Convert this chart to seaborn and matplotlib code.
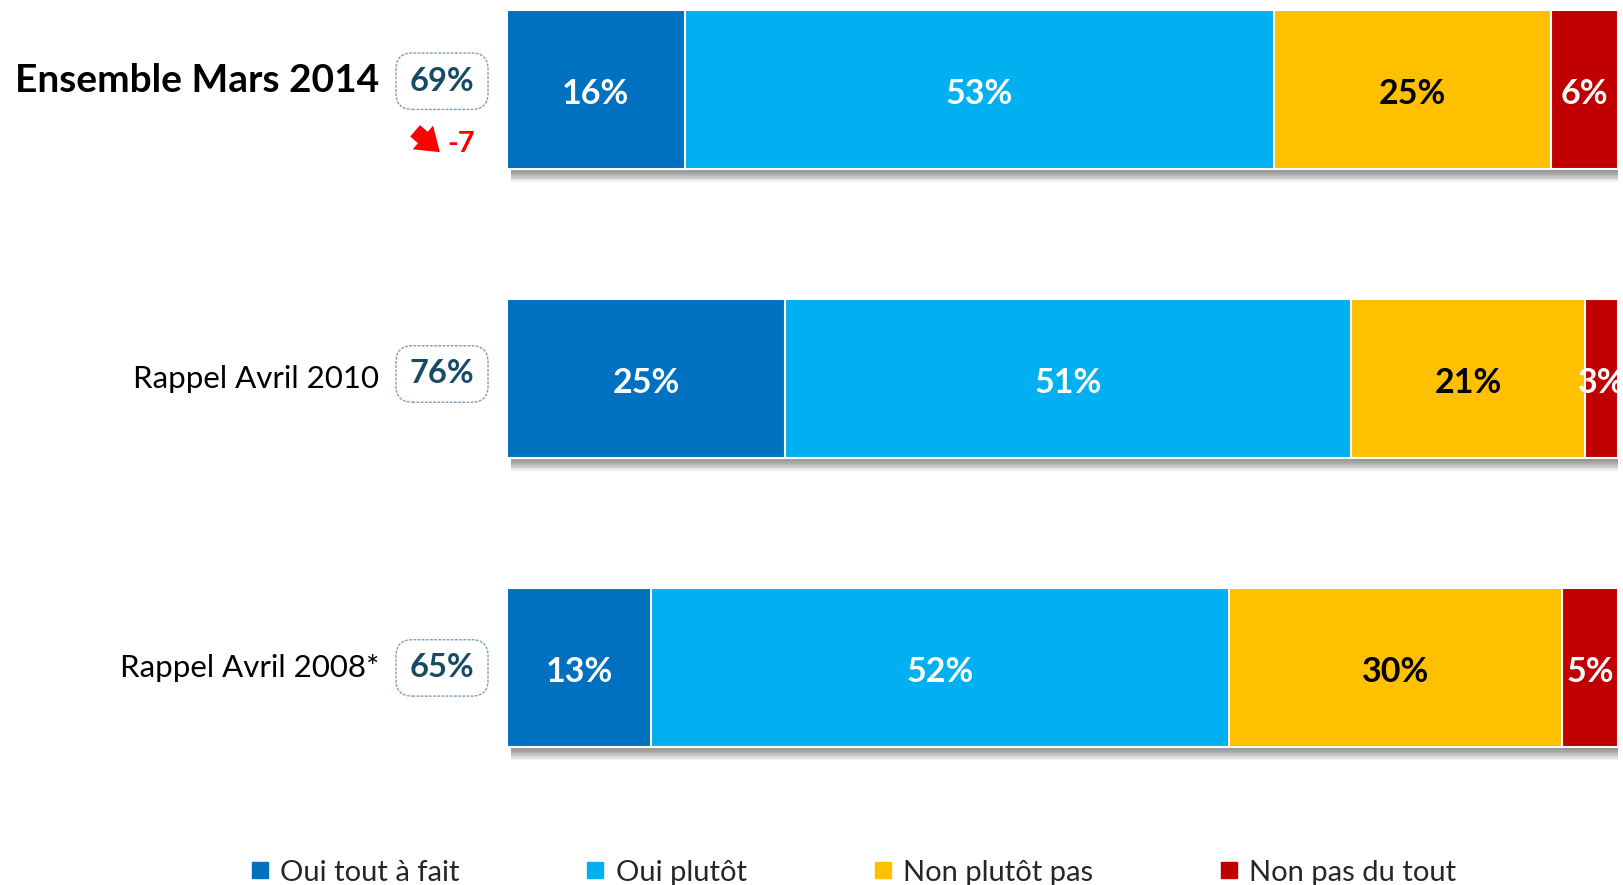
import matplotlib
matplotlib.use("Agg")
import matplotlib.pyplot as plt
import matplotlib.patheffects as pe
from matplotlib.lines import Line2D
import matplotlib.transforms as mtransforms
from matplotlib.patches import FancyArrowPatch
import seaborn as sns
import pandas as pd
import numpy as np

# ---------------- data ----------------
categories = ["Ensemble Mars 2014", "Rappel Avril 2010", "Rappel Avril 2008*"]
series_names = ["Oui tout à fait", "Oui plutôt", "Non plutôt pas", "Non pas du tout"]
oui_tout_a_fait = [16, 25, 13]
oui_plutot = [53, 51, 52]
non_plutot_pas = [25, 21, 30]
non_pas_du_tout = [6, 3, 5]
total_oui = ["69%", "76%", "65%"]
evolution = "-7"

colors = ["#0070C0", "#00B0F0", "#FFC000", "#C00000"]
label_colors = ["white", "white", "black", "white"]

sns.set_theme(style="white")
plt.rcParams["font.family"] = ["Lato", "DejaVu Sans"]

W, H = 1623, 885
fig = plt.figure(figsize=(W / 100, H / 100), dpi=100)
ax = fig.add_axes([507 / W, 1 - 800 / H, 1111 / W, 800 / H])

values = [oui_tout_a_fait, oui_plutot, non_plutot_pas, non_pas_du_tout]
cum = np.cumsum(np.array(values), axis=0)

# draw from the longest cumulative layer to the shortest
for k in range(3, -1, -1):
    df = pd.DataFrame({"cat": categories, "val": cum[k]})
    sns.barplot(data=df, x="val", y="cat", order=categories, orient="h",
                color=colors[k], saturation=1, width=0.55, ax=ax,
                edgecolor="white", linewidth=1.5)

# soft shadow on the full bars (first container = 100% layer)
shadow = [pe.SimplePatchShadow(offset=(3, -d), shadow_rgbFace="#000000", alpha=0.06)
          for d in range(9, 0, -1)]
for p in ax.containers[0].patches:
    p.set_path_effects(shadow + [pe.Normal()])

# segment labels
for k in range(4):
    starts = cum[k] - np.array(values[k])
    for i, cat in enumerate(categories):
        v = values[k][i]
        ax.text(starts[i] + v / 2, i + 0.015, f"{v}%", ha="center", va="center",
                color=label_colors[k], fontsize=24.5, fontweight="bold", clip_on=False)

ax.set_xlim(0, 100)
ax.set_ylim(2.457, -0.311)
ax.set_xlabel("")
ax.set_ylabel("")
ax.set_xticks([])
ax.set_yticks([])
for s in ax.spines.values():
    s.set_visible(False)

trans = mtransforms.blended_transform_factory(ax.transAxes, ax.transData)

# category labels
for i, cat in enumerate(categories):
    if i == 0:
        ax.text(-0.1152, i - 0.032, cat, transform=trans, ha="right", va="center",
                fontsize=28, fontweight="bold", color="black")
    else:
        ax.text(-0.1152, i, cat, transform=trans, ha="right", va="center",
                fontsize=22.5, color="black")

# boxes with total "oui"
box_offsets = [-0.03, -0.017, 0.0]
for i, t in enumerate(total_oui):
    ax.text(-0.0585, i + box_offsets[i], t, transform=trans, ha="center", va="center",
            fontsize=23.5, fontweight="bold", color="#164B63",
            bbox=dict(boxstyle="round,pad=0.42,rounding_size=0.5", fc="white",
                      ec="#7F9DB5", ls=(0, (2, 1)), lw=1.0))

# evolution arrow
fig.add_artist(FancyArrowPatch(
    (413, H - 129), (442, H - 154), transform=None,
    arrowstyle="simple,head_length=0.9,head_width=1.25,tail_width=0.6",
    mutation_scale=18, color="#FF0000", lw=0))
fig.text(461 / W, 1 - 144 / H, evolution, ha="center", va="center",
         fontsize=21, fontweight="bold", color="#FF0000")

# legend
handles = [Line2D([0], [0], marker="s", linestyle="none", markersize=12,
                  markerfacecolor=c, markeredgecolor=c) for c in colors]
fig.legend(handles, series_names, loc="center", bbox_to_anchor=(0.526, 0.014),
           ncol=4, frameon=False, fontsize=21, handlelength=0.6, handletextpad=0.4,
           columnspacing=4.35)

fig.savefig("out.png", dpi=100)
